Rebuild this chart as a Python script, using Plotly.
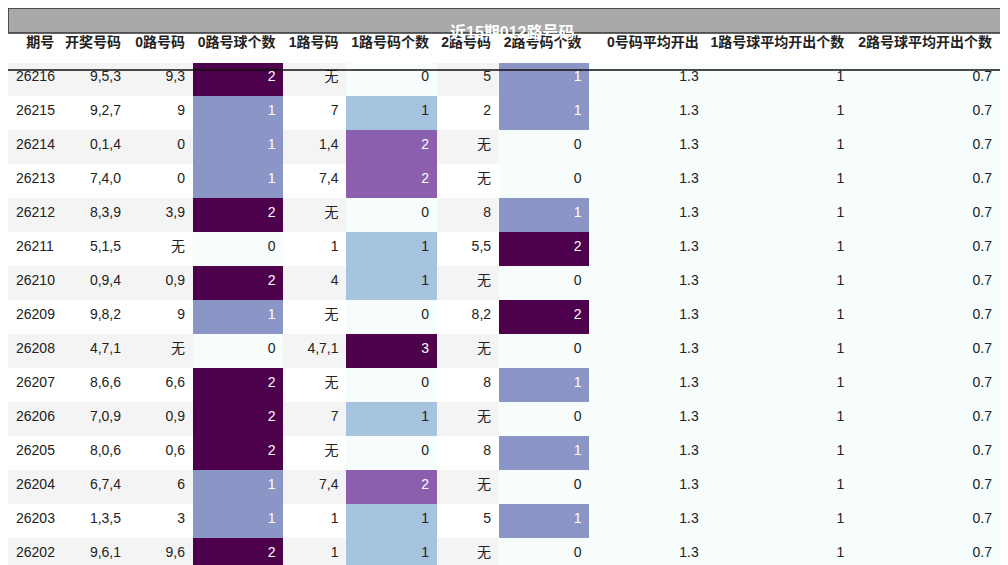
import plotly.graph_objects as go

periods = [26216, 26215, 26214, 26213, 26212, 26211, 26210, 26209, 26208, 26207, 26206, 26205, 26204, 26203, 26202]
draws = ["9,5,3", "9,2,7", "0,1,4", "7,4,0", "8,3,9", "5,1,5", "0,9,4", "9,8,2", "4,7,1", "8,6,6", "7,0,9", "8,0,6", "6,7,4", "1,3,5", "9,6,1"]
r0 = ["9,3", "9", "0", "0", "3,9", "无", "0,9", "9", "无", "6,6", "0,9", "0,6", "6", "3", "9,6"]
n0 = [2, 1, 1, 1, 2, 0, 2, 1, 0, 2, 2, 2, 1, 1, 2]
r1 = ["无", "7", "1,4", "7,4", "无", "1", "4", "无", "4,7,1", "无", "7", "无", "7,4", "1", "1"]
n1 = [0, 1, 2, 2, 0, 1, 1, 0, 3, 0, 1, 0, 2, 1, 1]
r2 = ["5", "2", "无", "无", "8", "5,5", "无", "8,2", "无", "8", "无", "8", "无", "5", "无"]
n2 = [1, 1, 0, 0, 1, 2, 0, 2, 0, 1, 0, 1, 0, 1, 0]
avg0 = [1.3] * 15
avg1 = [1] * 15
avg2 = [0.7] * 15

headers = ["期号", "开奖号码", "0路号码", "0路号球个数", "1路号码", "1路号码个数", "2路号码", "2路号码个数",
           "0号码平均开出", "1路号球平均开出个数", "2路号球平均开出个数"]
widths = [55, 68, 65, 92, 64, 92, 63, 92, 119, 148, 150]

stripe = ["#f4f4f4" if i % 2 == 0 else "#ffffff" for i in range(15)]

def count_colors(vals):
    mx = max(vals)
    if mx == 2:
        pal = {0: "#f7fcfd", 1: "#8c96c6", 2: "#4d004b"}
    else:
        pal = {0: "#f7fcfd", 1: "#a6c3df", 2: "#8c5fae", 3: "#4d004b"}
    fill = [pal[v] for v in vals]
    font = ["#ffffff" if pal[v] in ("#8c96c6", "#4d004b", "#8c5fae") else "#222222" for v in vals]
    return fill, font

f0, c0 = count_colors(n0)
f1, c1 = count_colors(n1)
f2, c2 = count_colors(n2)
avgfill = ["#f7fcfd"] * 15
dark = ["#222222"] * 15

fills = [stripe, stripe, stripe, f0, stripe, f1, stripe, f2, avgfill, avgfill, avgfill]
fonts = [dark, dark, dark, c0, dark, c1, dark, c2, dark, dark, dark]

font_fam = "Liberation Sans, Noto Sans CJK SC"
fig = go.Figure(go.Table(
    columnwidth=widths,
    domain=dict(x=[0, 1 - 16 / 1008], y=[0, 1 - 18 / 565]),
    header=dict(values=[f"<b>{h}</b>" for h in headers], align="right", height=36,
                fill_color="white", line_color="white",
                font=dict(family=font_fam, size=14, color="#222222")),
    cells=dict(values=[periods, draws, r0, n0, r1, n1, r2, n2, avg0, avg1, avg2],
               align=["left"] + ["right"] * 10, height=34,
               fill_color=fills, line_color=fills,
               font=dict(family=font_fam, size=14, color=fonts)),
))
fig.add_shape(type="rect", xref="paper", yref="paper", x0=0, x1=1, y0=1 - 25 / 565, y1=1,
              fillcolor="#a9a9a9", line=dict(color="#333333", width=1.5), layer="above")
fig.add_annotation(text="<b>近15期012路号码</b>", xref="paper", yref="paper", x=0.5, y=1 - 13 / 565,
                   showarrow=False, font=dict(family=font_fam, size=16, color="white"))
fig.add_shape(type="line", xref="paper", yref="paper", x0=0, x1=1, y0=1 - 62 / 565, y1=1 - 62 / 565,
              line=dict(color="#111111", width=1.5), layer="above")
fig.update_layout(width=1008, height=565, margin=dict(l=0, r=0, t=0, b=0), paper_bgcolor="white")
fig.write_html("out.html")
